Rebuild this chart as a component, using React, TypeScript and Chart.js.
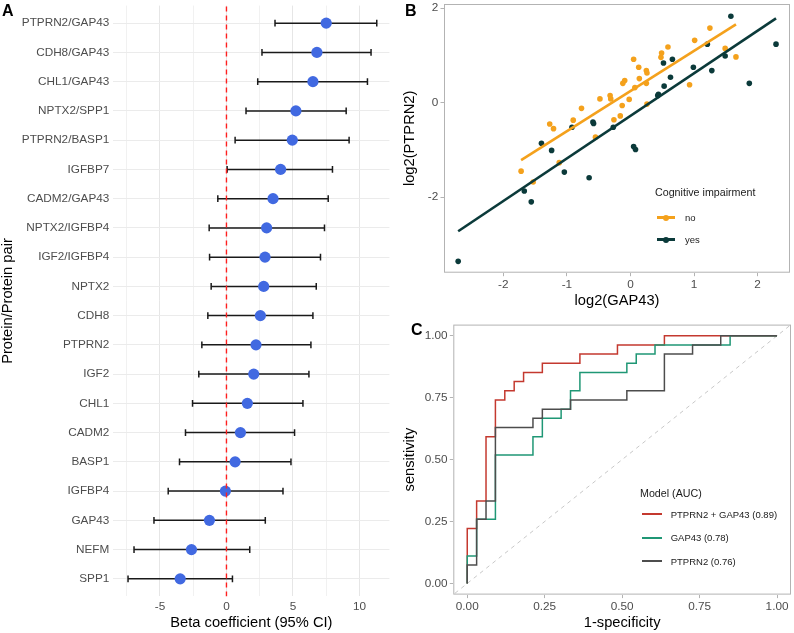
import React, { useEffect, useRef } from 'react';
import { Chart, registerables } from 'chart.js';

Chart.register(...registerables);

const FONT = '"Liberation Sans", Arial, Helvetica, sans-serif';
const AXIS_TEXT = '#4d4d4d';
const FRAME = '#b3b3b3';

// ---------- A: beta coefficients (95% CI), bottom row first ----------
const pairs = [
  'SPP1', 'NEFM', 'GAP43', 'IGFBP4', 'BASP1', 'CADM2', 'CHL1', 'IGF2', 'PTPRN2', 'CDH8',
  'NPTX2', 'IGF2/IGFBP4', 'NPTX2/IGFBP4', 'CADM2/GAP43', 'IGFBP7', 'PTPRN2/BASP1',
  'NPTX2/SPP1', 'CHL1/GAP43', 'CDH8/GAP43', 'PTPRN2/GAP43',
];
const beta = [-3.48, -2.63, -1.28, -0.08, 0.65, 1.05, 1.57, 2.05, 2.22, 2.55, 2.8, 2.9, 3.02, 3.5, 4.07, 4.95, 5.22, 6.5, 6.8, 7.5];
const ciLow = [-7.4, -6.95, -5.45, -4.38, -3.53, -3.08, -2.55, -2.08, -1.85, -1.4, -1.15, -1.27, -1.3, -0.65, 0.05, 0.65, 1.47, 2.35, 2.67, 3.65];
const ciHigh = [0.45, 1.75, 2.92, 4.25, 4.85, 5.12, 5.75, 6.2, 6.35, 6.5, 6.75, 7.07, 7.37, 7.65, 7.97, 9.22, 9.0, 10.6, 10.87, 11.3];
const betaTicks = [-7.5, -5, -2.5, 0, 2.5, 5, 7.5, 10];

// ---------- B: log2 GAP43 vs log2 PTPRN2 by cognitive impairment ----------
const groupLabels = ['no', 'yes'];
const groupColors = ['#f4a11c', '#0b3a3a'];
const noGap43 = [-1.72, -1.53, -1.27, -1.21, -1.12, -0.9, -0.77, -0.55, -0.48, -0.32, -0.31, -0.26, -0.16, -0.13, -0.12, -0.09, -0.02, 0.05, 0.07, 0.13, 0.14, 0.25, 0.26, 0.25, 0.26, 0.48, 0.49, 0.59, 0.93, 1.01, 1.25, 1.49, 1.66];
const noPtprn2 = [-1.45, -1.68, -0.45, -0.55, -1.27, -0.37, -0.12, -0.73, 0.08, 0.15, 0.08, -0.36, -0.28, -0.06, 0.41, 0.47, 0.07, 0.92, 0.32, 0.75, 0.51, 0.68, 0.63, 0.41, -0.03, 0.96, 1.05, 1.18, 0.38, 1.32, 1.58, 1.15, 0.97];
const yesGap43 = [-2.71, -1.67, -1.56, -1.4, -1.24, -1.04, -0.92, -0.59, -0.58, -0.65, -0.27, 0.05, 0.08, 0.43, 0.44, 0.52, 0.53, 0.63, 0.66, 0.99, 1.21, 1.28, 1.49, 1.58, 1.87, 2.29];
const yesPtprn2 = [-3.36, -1.87, -2.1, -0.86, -1.01, -1.47, -0.52, -0.41, -0.44, -1.59, -0.52, -0.93, -0.99, 0.15, 0.18, 0.84, 0.35, 0.54, 0.92, 0.75, 1.24, 0.68, 0.99, 1.83, 0.41, 1.24];
const gapTicks = [-2, -1, 0, 1, 2];
const ptprnTicks = [-2, 0, 2];

// ---------- C: ROC curves (counts of false / true positives at each step) ----------
const nControls = 33;
const nCases = 27;
const comboFp = [0, 1, 2, 3, 4, 5, 6, 8, 12, 16, 21];
const comboTp = [6, 9, 16, 20, 21, 22, 23, 24, 25, 26, 27];
const gap43Fp = [0, 1, 3, 7, 8, 10, 11, 12, 17, 18, 20, 28];
const gap43Tp = [3, 7, 14, 16, 18, 19, 21, 23, 24, 25, 26, 27];
const ptprn2Fp = [0, 1, 2, 3, 7, 8, 11, 17, 21, 24, 27];
const ptprn2Tp = [2, 7, 9, 17, 18, 19, 20, 21, 25, 26, 27];
const modelLabels = ['PTPRN2 + GAP43 (0.89)', 'GAP43 (0.78)', 'PTPRN2 (0.76)'];
const modelColors = ['#c4392f', '#1f9775', '#4d4d4d'];
const rocTicks = [0, 0.25, 0.5, 0.75, 1];

// ---------- helpers ----------
const tickFont = { family: FONT, size: 11.76 };
const titleFont = { family: FONT, size: 14.7 };

const sizeScale = (width?: number, height?: number) => (s: any) => {
  if (width !== undefined) s.width = width;
  if (height !== undefined) s.height = height;
  s.paddingTop = 0;
  s.paddingBottom = 0;
  s.paddingLeft = 0;
  s.paddingRight = 0;
};

const setTicks = (values: number[]) => (s: any) => {
  s.ticks = values.map((v) => ({ value: v }));
};

const framePlugin = {
  id: 'panelFrame',
  afterDraw(chart: any) {
    const { ctx, chartArea: a } = chart;
    ctx.save();
    ctx.strokeStyle = FRAME;
    ctx.lineWidth = 1;
    ctx.strokeRect(a.left + 0.5, a.top + 0.5, a.right - a.left - 1, a.bottom - a.top - 1);
    ctx.restore();
  },
};

const baseOptions = (padding: any) => ({
  responsive: false,
  maintainAspectRatio: false,
  devicePixelRatio: 1,
  animation: false as const,
  events: [] as any[],
  layout: { padding },
  plugins: { legend: { display: false }, tooltip: { enabled: false } },
});

function fitLine(xs: number[], ys: number[]) {
  const n = xs.length;
  const mx = xs.reduce((a, b) => a + b, 0) / n;
  const my = ys.reduce((a, b) => a + b, 0) / n;
  let sxy = 0;
  let sxx = 0;
  for (let i = 0; i < n; i++) {
    sxy += (xs[i] - mx) * (ys[i] - my);
    sxx += (xs[i] - mx) * (xs[i] - mx);
  }
  const slope = sxy / sxx;
  const icpt = my - slope * mx;
  const x0 = Math.min(...xs);
  const x1 = Math.max(...xs);
  return [
    { x: x0, y: icpt + slope * x0 },
    { x: x1, y: icpt + slope * x1 },
  ];
}

function rocPath(fp: number[], tp: number[]) {
  const pts = [{ x: 0, y: 0 }];
  let prev = 0;
  fp.forEach((f, i) => {
    pts.push({ x: f / nControls, y: prev / nCases });
    pts.push({ x: f / nControls, y: tp[i] / nCases });
    prev = tp[i];
  });
  pts.push({ x: 1, y: prev / nCases });
  return pts;
}

// ---------- chart configs ----------
function forestConfig(): any {
  const ciPath: any[] = [];
  const caps: any[] = [];
  const est: any[] = [];
  pairs.forEach((_, i) => {
    ciPath.push({ x: ciLow[i], y: i + 1 }, { x: ciHigh[i], y: i + 1 }, { x: null, y: null });
    caps.push({ x: ciLow[i], y: i + 1 }, { x: ciHigh[i], y: i + 1 });
    est.push({ x: beta[i], y: i + 1 });
  });
  const rows = pairs.map((_, i) => i + 1);
  return {
    type: 'scatter',
    data: {
      datasets: [
        {
          data: [{ x: 0, y: 0.4 }, { x: 0, y: 20.6 }],
          showLine: true,
          borderColor: '#ff1f1f',
          borderWidth: 1.4,
          borderDash: [5, 4],
          pointRadius: 0,
          order: 0,
        },
        {
          data: est,
          pointRadius: 5.6,
          pointBackgroundColor: '#4169e1',
          backgroundColor: '#4169e1',
          pointBorderWidth: 0,
          order: 1,
        },
        {
          data: caps,
          pointStyle: 'line',
          rotation: 90,
          pointRadius: 3.3,
          pointBorderColor: '#1a1a1a',
          pointBorderWidth: 1.5,
          order: 2,
        },
        {
          data: ciPath,
          showLine: true,
          spanGaps: false,
          pointRadius: 0,
          borderColor: '#1a1a1a',
          borderWidth: 1.5,
          order: 3,
        },
      ],
    },
    options: {
      ...baseOptions({ left: 0, right: 5, top: 1.6, bottom: 0 }),
      scales: {
        x: {
          type: 'linear',
          min: -8.5,
          max: 12.25,
          afterBuildTicks: setTicks(betaTicks),
          afterFit: sizeScale(undefined, 36.6),
          border: { display: false },
          grid: {
            drawTicks: false,
            color: (c: any) => (c.tick && c.tick.value % 5 === 0 ? '#e6e6e6' : '#f1f1f1'),
            lineWidth: 1,
          },
          ticks: {
            autoSkip: false,
            maxRotation: 0,
            padding: 3.5,
            font: tickFont,
            color: AXIS_TEXT,
            callback: (v: number) => (v % 5 === 0 ? String(v) : ''),
          },
          title: {
            display: true,
            text: 'Beta coefficient (95% CI)',
            font: titleFont,
            color: '#000',
            padding: { top: 0, bottom: 1.2 },
          },
        },
        y: {
          type: 'linear',
          min: 0.4,
          max: 20.6,
          afterBuildTicks: setTicks(rows),
          afterFit: sizeScale(113.4, undefined),
          border: { display: false },
          grid: { drawTicks: false, color: '#ebebeb', lineWidth: 1 },
          ticks: {
            autoSkip: false,
            padding: 4.1,
            font: tickFont,
            color: AXIS_TEXT,
            callback: (v: number) => pairs[v - 1] ?? '',
          },
          title: {
            display: true,
            text: 'Protein/Protein pair',
            font: titleFont,
            color: '#000',
            padding: { top: -1.3, bottom: 0 },
          },
        },
      },
    },
  };
}

function scatterConfig(): any {
  const toPts = (xs: number[], ys: number[]) => xs.map((x, i) => ({ x, y: ys[i] }));
  return {
    type: 'scatter',
    data: {
      datasets: [
        {
          data: fitLine(yesGap43, yesPtprn2),
          showLine: true,
          borderColor: groupColors[1],
          borderWidth: 2.6,
          pointRadius: 0,
          order: 0,
        },
        {
          data: fitLine(noGap43, noPtprn2),
          showLine: true,
          borderColor: groupColors[0],
          borderWidth: 2.6,
          pointRadius: 0,
          order: 1,
        },
        {
          data: toPts(yesGap43, yesPtprn2),
          pointRadius: 2.8,
          pointBackgroundColor: groupColors[1],
          pointBorderWidth: 0,
          order: 2,
        },
        {
          data: toPts(noGap43, noPtprn2),
          pointRadius: 2.8,
          pointBackgroundColor: groupColors[0],
          pointBorderWidth: 0,
          order: 3,
        },
      ],
    },
    options: {
      ...baseOptions({ left: 0, right: 3, top: 1.7, bottom: 0 }),
      scales: {
        x: {
          type: 'linear',
          min: -2.933,
          max: 2.51,
          afterBuildTicks: setTicks(gapTicks),
          afterFit: sizeScale(undefined, 37.3),
          border: { display: false },
          grid: { drawOnChartArea: false, drawTicks: true, tickLength: 3.5, tickColor: FRAME, tickWidth: 1 },
          ticks: { autoSkip: false, maxRotation: 0, padding: 1.7, font: tickFont, color: AXIS_TEXT, callback: (v: number) => String(v) },
          title: { display: true, text: 'log2(GAP43)', font: titleFont, color: '#000', padding: { top: 0, bottom: 0.7 } },
        },
        y: {
          type: 'linear',
          min: -3.6,
          max: 2.09,
          afterBuildTicks: setTicks(ptprnTicks),
          afterFit: sizeScale(49, undefined),
          border: { display: false },
          grid: { drawOnChartArea: false, drawTicks: true, tickLength: 3.5, tickColor: FRAME, tickWidth: 1 },
          ticks: { autoSkip: false, padding: 2.2, font: tickFont, color: AXIS_TEXT, callback: (v: number) => String(v) },
          title: { display: true, text: 'log2(PTPRN2)', font: titleFont, color: '#000', padding: { top: 6.2, bottom: 0 } },
        },
      },
    },
    plugins: [framePlugin],
  };
}

function rocConfig(): any {
  const paths = [rocPath(comboFp, comboTp), rocPath(gap43Fp, gap43Tp), rocPath(ptprn2Fp, ptprn2Tp)];
  return {
    type: 'scatter',
    data: {
      datasets: [
        ...paths.map((p, i) => ({
          data: p,
          showLine: true,
          borderColor: modelColors[i],
          borderWidth: 1.5,
          pointRadius: 0,
          order: 2 - i,
        })),
        {
          data: [{ x: -0.1, y: -0.1 }, { x: 1.1, y: 1.1 }],
          showLine: true,
          borderColor: '#c8c8c8',
          borderWidth: 1,
          borderDash: [4, 4],
          pointRadius: 0,
          order: 5,
        },
      ],
    },
    options: {
      ...baseOptions({ left: 0, right: 3, top: 14.6, bottom: 0 }),
      scales: {
        x: {
          type: 'linear',
          min: -0.045,
          max: 1.045,
          afterBuildTicks: setTicks(rocTicks),
          afterFit: sizeScale(undefined, 38.4),
          border: { display: false },
          grid: { drawOnChartArea: false, drawTicks: true, tickLength: 3.5, tickColor: FRAME, tickWidth: 1 },
          ticks: { autoSkip: false, maxRotation: 0, padding: 1.7, font: tickFont, color: AXIS_TEXT, callback: (v: number) => v.toFixed(2) },
          title: { display: true, text: '1-specificity', font: titleFont, color: '#000', padding: { top: 0, bottom: 0.9 } },
        },
        y: {
          type: 'linear',
          min: -0.045,
          max: 1.045,
          afterBuildTicks: setTicks(rocTicks),
          afterFit: sizeScale(58.3, undefined),
          border: { display: false },
          grid: { drawOnChartArea: false, drawTicks: true, tickLength: 3.5, tickColor: FRAME, tickWidth: 1 },
          ticks: { autoSkip: false, padding: 2.2, font: tickFont, color: AXIS_TEXT, callback: (v: number) => v.toFixed(2) },
          title: { display: true, text: 'sensitivity', font: titleFont, color: '#000', padding: { top: 6.2, bottom: 0 } },
        },
      },
    },
    plugins: [framePlugin],
  };
}

// ---------- components ----------
function ChartCanvas({ make, left, top, width, height }: { make: () => any; left: number; top: number; width: number; height: number }) {
  const ref = useRef<HTMLCanvasElement>(null);
  useEffect(() => {
    const chart = new Chart(ref.current as HTMLCanvasElement, make());
    return () => chart.destroy();
  }, []);
  return (
    <canvas
      ref={ref}
      width={width}
      height={height}
      style={{ position: 'absolute', left, top, width, height, display: 'block' }}
    />
  );
}

function Text({ left, cy, size, children, weight, color }: any) {
  const lh = Math.ceil(size * 1.15);
  return (
    <div
      style={{
        position: 'absolute',
        left,
        top: cy - lh / 2,
        height: lh,
        lineHeight: `${lh}px`,
        fontSize: size,
        fontFamily: FONT,
        fontWeight: weight || 'normal',
        color: color || '#1a1a1a',
        whiteSpace: 'nowrap',
      }}
    >
      {children}
    </div>
  );
}

function PanelLetter({ left, top, children }: any) {
  return (
    <div
      style={{
        position: 'absolute',
        left,
        top,
        fontFamily: FONT,
        fontWeight: 'bold',
        fontSize: 16,
        lineHeight: '16px',
        color: '#000',
      }}
    >
      {children}
    </div>
  );
}

export default function App() {
  return (
    <div
      style={{
        position: 'fixed',
        left: 0,
        top: 0,
        width: 794,
        height: 633,
        background: '#fff',
        overflow: 'hidden',
      }}
    >
      <ChartCanvas make={forestConfig} left={0} top={0} width={395} height={633} />
      <ChartCanvas make={scatterConfig} left={395} top={0} width={399} height={310} />
      <ChartCanvas make={rocConfig} left={395} top={310} width={399} height={323} />

      <PanelLetter left={2} top={3}>A</PanelLetter>
      <PanelLetter left={405} top={3}>B</PanelLetter>
      <PanelLetter left={411} top={322}>C</PanelLetter>

      {/* legend of the scatter panel */}
      <Text left={655} cy={192.5} size={10.7}>Cognitive impairment</Text>
      {groupLabels.map((g, i) => {
        const cy = 217 + i * 22;
        return (
          <React.Fragment key={g}>
            <div style={{ position: 'absolute', left: 657, top: cy - 1, width: 18, height: 3, background: groupColors[i] }} />
            <div
              style={{
                position: 'absolute',
                left: 663,
                top: cy - 2.5,
                width: 6,
                height: 6,
                borderRadius: '50%',
                background: groupColors[i],
              }}
            />
            <Text left={685} cy={cy + 0.5} size={9.5}>{g}</Text>
          </React.Fragment>
        );
      })}

      {/* legend of the ROC panel */}
      <Text left={640} cy={493.3} size={10.7}>Model (AUC)</Text>
      {modelLabels.map((m, i) => {
        const cy = 514 + i * 23.5;
        return (
          <React.Fragment key={m}>
            <div style={{ position: 'absolute', left: 642, top: Math.round(cy) - 1, width: 20, height: 2, background: modelColors[i] }} />
            <Text left={670.7} cy={cy} size={9.5}>{m}</Text>
          </React.Fragment>
        );
      })}
    </div>
  );
}
